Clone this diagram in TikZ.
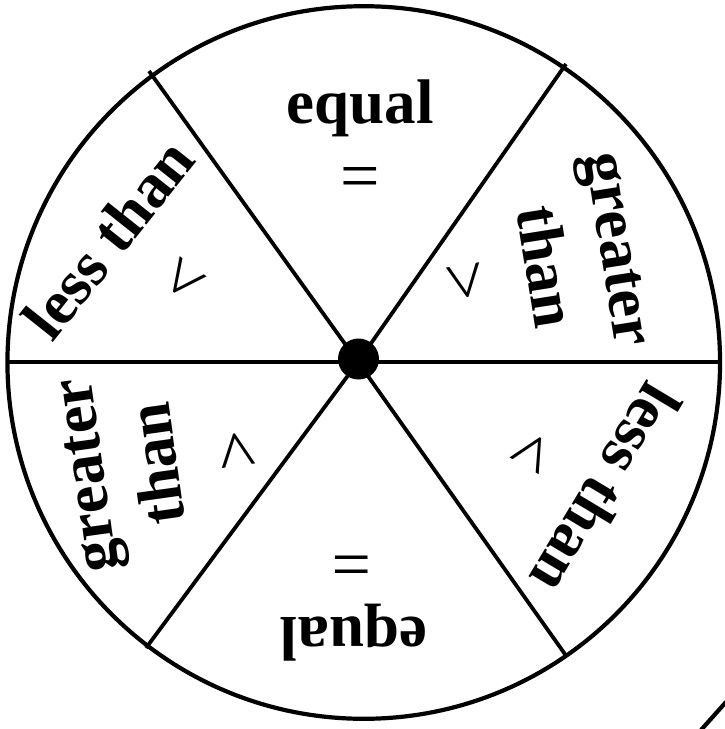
\documentclass[tikz,border=0pt]{standalone}
\usepackage{fontspec}
\setmainfont{Liberation Serif}
\begin{document}
\begin{tikzpicture}[x=1pt,y=-1pt,
  word/.style={font=\fontsize{63}{70}\selectfont\bfseries, inner sep=0pt, anchor=base},
  sym/.style={font=\fontsize{70}{76}\selectfont, inner sep=0pt},
  rim/.style={line width=4.2pt},
  spoke/.style={line width=3.8pt}]
\useasboundingbox (0,0) rectangle (725,729);
\coordinate (c) at (358,362);
\draw[rim] (363.75,362.5) circle (356.3);
% spokes
\coordinate (w) at (7,362);
\coordinate (e) at (720,362);
\coordinate (tl) at (149,71);
\coordinate (tr) at (566,64);
\coordinate (bl) at (146,648);
\coordinate (br) at (567,657);
\draw[spoke] (w) -- (e);
\draw[spoke] (c) -- (tl);
\draw[spoke] (c) -- (tr);
\draw[spoke] (c) -- (bl);
\draw[spoke] (c) -- (br);
\fill (358.5,359) circle (20.5);
% partial next wheel
\coordinate (p1) at (701,730);
\coordinate (p2) at (726,702);
\draw[rim] (p1) -- (p2);
% top sector
\node[word] (eqt) at (360,123) {equal};
\node[sym] (eqst) at (360,183) {=};
% bottom sector
\node[word, rotate=180] (eqb) at (354,617) {equal};
\node[sym, rotate=180] (eqsb) at (352,557) {=};
% upper left
\node[word, rotate=51.5] (ltl) at (125,252) {less than};
\node[sym, rotate=53] (ltsl) at (186,282) {<};
% lower right
\node[word, rotate=239] (ltr) at (588,478) {less than};
\node[sym, rotate=240] (ltsr) at (530,451) {<};
% upper right
\node[word, rotate=-81] (gtr1) at (601,252) {greater};
\node[word, rotate=-81] (gtr2) at (526,270) {than};
\node[sym, rotate=-81] (gtsr) at (462,282) {>};
% lower left
\node[word, rotate=98] (gtl1) at (104,473) {greater};
\node[word, rotate=98] (gtl2) at (177,461) {than};
\node[sym, rotate=98] (gtsl) at (240,450) {>};
\end{tikzpicture}
\end{document}
